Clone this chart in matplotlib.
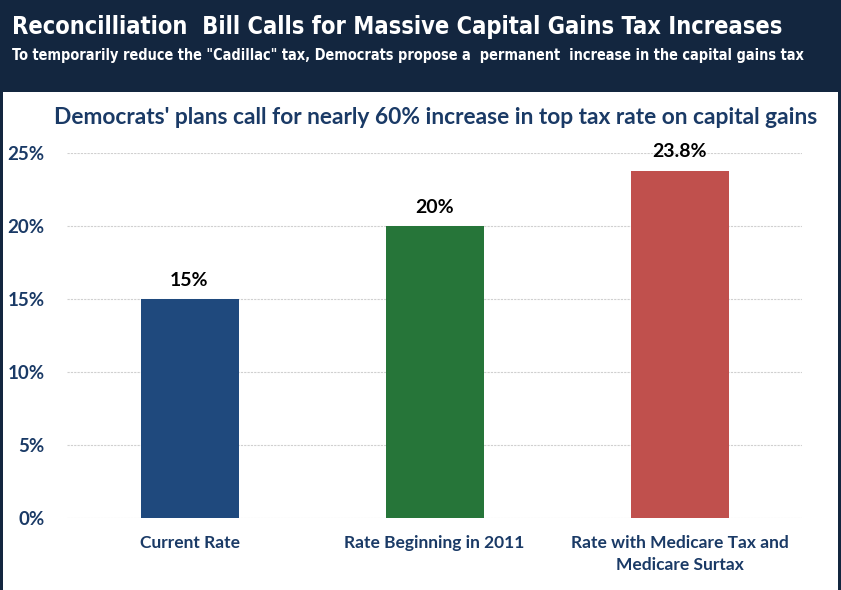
import matplotlib.pyplot as plt
from matplotlib.patches import Rectangle

# Data
categories = ['Current Rate', 'Rate Beginning in 2011', 'Rate with Medicare Tax and\nMedicare Surtax']
rates = [15.0, 20.0, 23.8]
value_labels = ['15%', '20%', '23.8%']
bar_colors = ['#1F497D', '#267539', '#C0504D']
yticks = [0, 5, 10, 15, 20, 25]

navy = '#13263F'
text_navy = '#1A3A66'

fig = plt.figure(figsize=(8.41, 5.90), dpi=100)
fig.patch.set_facecolor(navy)

# White panel below the header band
fig.add_artist(Rectangle((3 / 841, 0), (838 - 3) / 841, 1 - 92 / 590,
                         transform=fig.transFigure, facecolor='white',
                         edgecolor='none', zorder=0))

title = fig.text(12 / 841, 1 - 34 / 590,
                 'Reconcilliation  Bill Calls for Massive Capital Gains Tax Increases',
                 color='white', fontsize=20, fontweight='bold', family='DejaVu Sans',
                 fontstretch='condensed', ha='left', va='baseline')
subtitle = fig.text(12 / 841, 1 - 60 / 590,
                    'To temporarily reduce the "Cadillac" tax, Democrats propose a  permanent  increase in the capital gains tax',
                    color='white', fontsize=11.5, fontweight='bold', family='DejaVu Sans',
                    fontstretch='condensed', ha='left', va='baseline')

ax = fig.add_axes([67 / 841, 1 - 518 / 590, (802 - 67) / 841, (518 - 153) / 590])
ax.set_facecolor('none')

x = range(len(categories))
ax.bar(x, rates, width=0.4, color=bar_colors, zorder=3)

for xi, v, lab in zip(x, rates, value_labels):
    ax.text(xi, v + 0.7, lab, ha='center', va='bottom', fontsize=14,
            fontweight='bold', color='black', family='Lato')

ax.set_xlim(-0.5, 2.5)
ax.set_ylim(0, 25)
ax.set_yticks(yticks)
ax.set_yticklabels([f'{t}%' for t in yticks])
ax.set_xticks(list(x))
ax.set_xticklabels(categories, linespacing=1.5)

for lab in ax.get_yticklabels() + ax.get_xticklabels():
    lab.set_color(text_navy)
    lab.set_fontweight('bold')
    lab.set_family('Lato')
for lab in ax.get_yticklabels():
    lab.set_fontsize(13.5)
for lab in ax.get_xticklabels():
    lab.set_fontsize(12.5)

ax.tick_params(axis='y', length=0, pad=16)
ax.tick_params(axis='x', length=0, pad=12)

ax.yaxis.grid(True, color='#D0D0D0', linestyle=(0, (2, 1)), linewidth=0.8, zorder=0)
for s in ax.spines.values():
    s.set_visible(False)

fig.text(436 / 841, 1 - 118 / 590,
         "Democrats' plans call for nearly 60% increase in top tax rate on capital gains",
         color=text_navy, fontsize=16.4, fontweight='bold', family='Lato',
         ha='center', va='center')

# shrink the header texts if the condensed face is missing
renderer = fig.canvas.get_renderer()
for t, target in [(title, 771), (subtitle, 803)]:
    w = t.get_window_extent(renderer).width
    if w > target:
        t.set_fontsize(t.get_fontsize() * target / w)

fig.savefig('out.png', dpi=100, facecolor=fig.get_facecolor())
